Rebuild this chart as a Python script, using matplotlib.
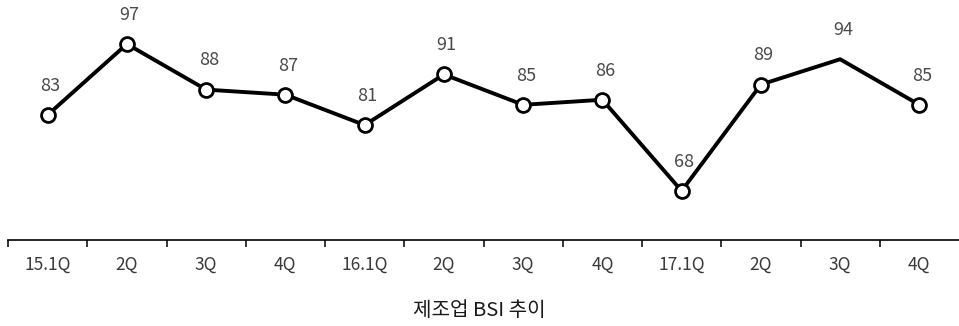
import matplotlib.pyplot as plt

plt.rcParams['font.family'] = ['Noto Sans CJK KR', 'DejaVu Sans']

분기 = ['15.1Q', '2Q', '3Q', '4Q', '16.1Q', '2Q', '3Q', '4Q', '17.1Q', '2Q', '3Q', '4Q']
bsi = [83, 97, 88, 87, 81, 91, 85, 86, 68, 89, 94, 85]
# 17년 3Q 점은 원본에서 마커 없음
마커 = [0, 1, 2, 3, 4, 5, 6, 7, 8, 9, 11]

fig = plt.figure(figsize=(9.59, 3.26), dpi=100)
ax = fig.add_axes([8 / 959, 1 - 240 / 326, 1 - 8 / 959, 240 / 326])

x = list(range(len(bsi)))
ax.plot(x, bsi, color='black', linewidth=2.8, marker='o', markersize=10,
        markevery=마커, markerfacecolor='white', markeredgecolor='black',
        markeredgewidth=2, zorder=3)
for i, v in zip(x, bsi):
    ax.annotate(str(v), (i, v), xytext=(2, 21), textcoords='offset points',
                ha='center', va='center', fontsize=13, color='#4a4a4a')

ax.set_xlim(-0.5, 11.5)
ax.set_ylim(58.3, 105.7)

for s in ['top', 'right', 'left']:
    ax.spines[s].set_visible(False)
ax.spines['bottom'].set_linewidth(1.2)
ax.set_yticks([])
ax.set_xticks([i - 0.5 for i in range(len(bsi))], minor=False)
ax.set_xticklabels([])
ax.tick_params(axis='x', which='major', length=5, width=1.1, direction='out')
ax.set_xticks(x, minor=True)
ax.set_xticklabels(분기, minor=True)
ax.tick_params(axis='x', which='minor', length=0, pad=11, labelsize=12.5,
               labelcolor='#3a3a3a')

fig.text(0.5, 1 - 311 / 326, '제조업 BSI 추이', ha='center', va='center',
         fontsize=14.5, color='#1a1a1a')

fig.savefig('out.png', dpi=100)
